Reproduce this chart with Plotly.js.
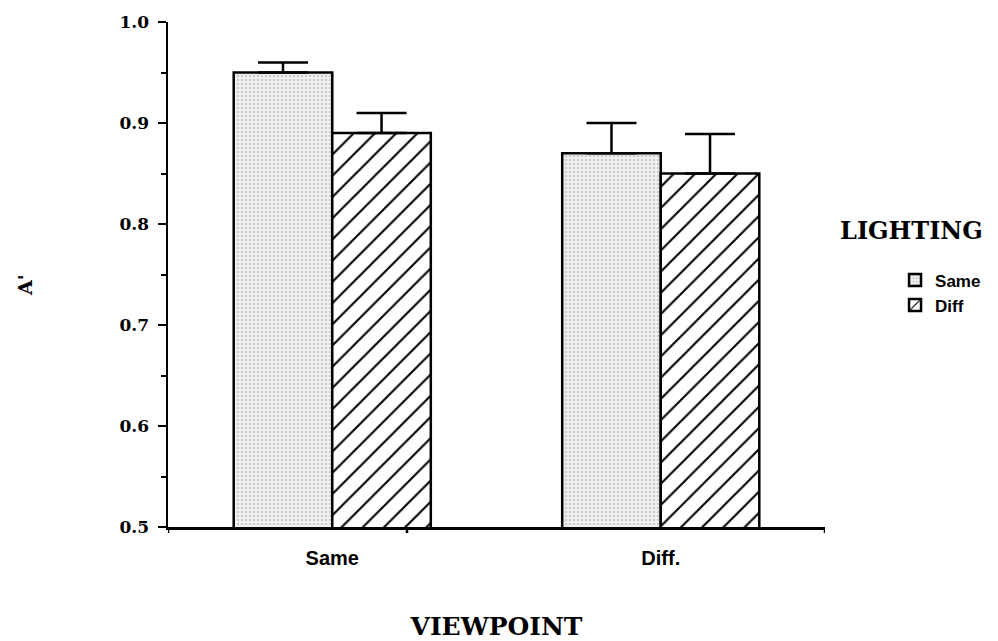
<!DOCTYPE html>
<html>
<head>
<meta charset="utf-8">
<script src="https://cdn.plot.ly/plotly-3.0.1.min.js"></script>
<style>html,body{margin:0;padding:0;background:#fff;}#chart{width:998px;height:641px;}</style>
</head>
<body>
<div id="chart"></div>
<script>
const viewpoints = ["Same", "Diff."];
const lightingSame = [0.95, 0.87];
const lightingSameErr = [0.01, 0.03];
const lightingDiff = [0.89, 0.85];
const lightingDiffErr = [0.02, 0.039];
const yTicks = [0.5, 0.6, 0.7, 0.8, 0.9, 1.0];

const serif = "DejaVu Serif, Liberation Serif, serif";
const sans = "Liberation Sans, Arial, sans-serif";

const traces = [
  {
    type: "bar", name: "Same", x: viewpoints, y: lightingSame,
    marker: {
      color: "#eeeeee",
      line: {color: "#000", width: 2.5},
      pattern: {shape: ".", fgcolor: "#cccccc", bgcolor: "#f1f1f1", size: 4, solidity: 0.35, fillmode: "replace"}
    },
    error_y: {type: "data", symmetric: false, array: lightingSameErr, arrayminus: [0, 0], color: "#000", thickness: 2.5, width: 25}
  },
  {
    type: "bar", name: "Diff", x: viewpoints, y: lightingDiff,
    marker: {
      color: "#fff",
      line: {color: "#000", width: 2.5},
      pattern: {shape: "/", fgcolor: "#000", bgcolor: "#fff", size: 15, solidity: 0.14, fillmode: "replace"}
    },
    error_y: {type: "data", symmetric: false, array: lightingDiffErr, arrayminus: [0, 0], color: "#000", thickness: 2.5, width: 25}
  }
];

const layout = {
  width: 998, height: 641,
  margin: {l: 168, r: 173, t: 22, b: 114},
  paper_bgcolor: "#fff", plot_bgcolor: "#fff",
  barmode: "group", bargap: 0.4, bargroupgap: 0,
  showlegend: true,
  xaxis: {
    type: "category", range: [-0.5, 1.5],
    showline: true, linecolor: "#000", linewidth: 2.5,
    ticks: "outside", ticklen: 11, tickcolor: "rgba(0,0,0,0)",
    showgrid: false, zeroline: false,
    tickfont: {family: sans, size: 20, color: "#000", weight: "bold"},
    title: {text: "VIEWPOINT", font: {family: serif, size: 25, color: "#000", weight: "bold"}, standoff: 56}
  },
  yaxis: {
    range: [0.5, 1.0], tickvals: yTicks, tickformat: ".1f",
    showline: true, linecolor: "#000", linewidth: 2.5,
    ticks: "outside", ticklen: 8, tickwidth: 2.5, tickcolor: "#000",
    ticklabelstandoff: 5,
    minor: {dtick: 0.05, ticks: "outside", ticklen: 5, tickwidth: 2, tickcolor: "#000", showgrid: false},
    showgrid: false, zeroline: false,
    tickfont: {family: serif, size: 17, color: "#000", weight: "bold"}
  },
  legend: {
    x: 1.1066, y: 0.524, xanchor: "left", yanchor: "top",
    font: {family: sans, size: 17, color: "#000", weight: "bold"},
    tracegroupgap: 0, itemwidth: 30, bgcolor: "rgba(0,0,0,0)"
  },
  annotations: [
    {text: "LIGHTING", xref: "paper", yref: "paper", x: 1.131, y: 0.588, xanchor: "center", yanchor: "middle",
     showarrow: false, font: {family: serif, size: 24, color: "#000", weight: "bold"}},
    {text: "A'", xref: "paper", yref: "paper", x: -0.218, y: 0.479, xanchor: "center", yanchor: "middle",
     textangle: -90, showarrow: false, font: {family: serif, size: 19, color: "#000", weight: "bold"}}
  ],
  shapes: [
    {type: "line", xref: "x", yref: "paper", x0: -0.5, x1: -0.5, y0: 0, y1: -0.012, line: {color: "#000", width: 2.5}},
    {type: "line", xref: "x", yref: "paper", x0: 0.2276, x1: 0.2276, y0: 0, y1: -0.012, line: {color: "#000", width: 2.5}},
    {type: "line", xref: "x", yref: "paper", x0: 1.5, x1: 1.5, y0: 0, y1: -0.012, line: {color: "#000", width: 2.5}}
  ]
};

Plotly.newPlot("chart", traces, layout, {displayModeBar: false, staticPlot: true});
</script>
</body>
</html>
